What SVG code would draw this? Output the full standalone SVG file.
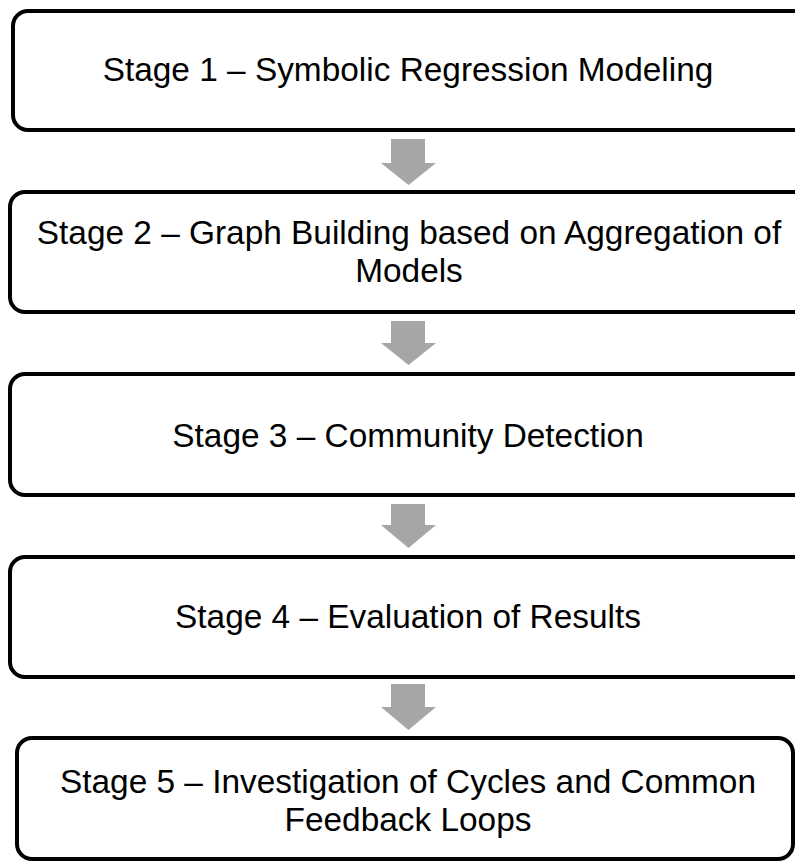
<svg xmlns="http://www.w3.org/2000/svg" width="795" height="862" viewBox="0 0 795 862">
  <style>
    .box { fill: #ffffff; stroke: #000000; stroke-width: 4; }
    .label { font-family: "Liberation Sans", Arial, sans-serif; font-size: 33.4px; fill: #000000; text-anchor: middle; }
    .arrow { fill: #a6a6a6; }
  </style>
  <rect width="795" height="862" fill="#ffffff"/>

  <g id="stage1">
    <rect class="box" x="13" y="11" width="796" height="119" rx="15" ry="15"/>
    <text class="label" x="408" y="81">Stage 1 – Symbolic Regression Modeling</text>
  </g>

  <g id="stage2">
    <rect class="box" x="10" y="192" width="800" height="120" rx="15" ry="15"/>
    <text class="label" x="409" y="244">Stage 2 – Graph Building based on Aggregation of</text>
    <text class="label" x="409" y="282">Models</text>
  </g>

  <g id="stage3">
    <rect class="box" x="10" y="374" width="800" height="121" rx="15" ry="15"/>
    <text class="label" x="408" y="447">Stage 3 – Community Detection</text>
  </g>

  <g id="stage4">
    <rect class="box" x="10" y="557" width="800" height="120" rx="15" ry="15"/>
    <text class="label" x="408" y="628">Stage 4 – Evaluation of Results</text>
  </g>

  <g id="stage5">
    <rect class="box" x="17" y="738" width="776" height="121" rx="15" ry="15"/>
    <text class="label" x="408" y="793">Stage 5 – Investigation of Cycles and Common</text>
    <text class="label" x="408" y="831">Feedback Loops</text>
  </g>

  <g id="connectors">
    <polygon class="arrow" points="391,139 425,139 425,163 436,163 408.5,185 381,163 391,163"/>
    <polygon class="arrow" points="391,321 425,321 425,343 436,343 408.5,365 381,343 391,343"/>
    <polygon class="arrow" points="391,504 425,504 425,525 436,525 408.5,548 381,525 391,525"/>
    <polygon class="arrow" points="391,684 425,684 425,707 436,707 408.5,730 381,707 391,707"/>
  </g>
</svg>
